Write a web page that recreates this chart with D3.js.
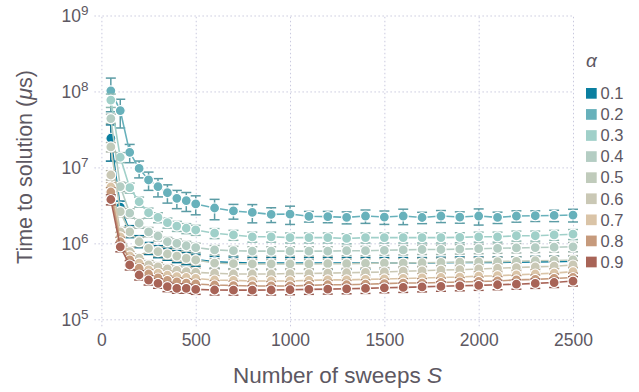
<!DOCTYPE html>
<html>
<head>
<meta charset="utf-8">
<script src="https://cdn.jsdelivr.net/npm/d3@7"></script>
<style>
  html, body { margin: 0; padding: 0; background: #fff; }
  svg { display: block; }
  text { font-family: "Liberation Sans", Helvetica, Arial, sans-serif; }
</style>
</head>
<body>
<svg id="chart" width="639" height="392"></svg>
<script>
// Number of sweeps S at which each run was measured
const sweeps = [50, 100, 150, 200, 250, 300, 350, 400, 450, 500,
  600, 700, 800, 900, 1000, 1100, 1200, 1300, 1400, 1500,
  1600, 1700, 1800, 1900, 2000, 2100, 2200, 2300, 2400, 2500];

const alphaLabels = ["0.1", "0.2", "0.3", "0.4", "0.5", "0.6", "0.7", "0.8", "0.9"];
const alphaColors = ["#0a7fa0", "#67b1bb", "#a0d0c9", "#b4cdc3", "#c0cbbb",
  "#cac8b5", "#dac4a7", "#c69a7c", "#a86457"];

// Time to solution (microseconds), one array per alpha
const tts01 = [2.42e7, 3.0e6, 1.45e6, 1.07e6, 8.7e5, 7.9e5, 7.3e5, 6.8e5, 6.4e5, 6.1e5,
  5.7e5, 5.6e5, 5.5e5, 5.5e5, 5.5e5, 5.5e5, 5.5e5, 5.5e5, 5.5e5, 5.5e5,
  5.5e5, 5.5e5, 5.55e5, 5.6e5, 5.6e5, 5.6e5, 5.65e5, 5.7e5, 5.75e5, 5.8e5];
const tts02 = [1.02e8, 5.6e7, 1.58e7, 9.7e6, 6.83e6, 5.6e6, 4.64e6, 3.92e6, 3.65e6, 3.30e6,
  2.92e6, 2.67e6, 2.55e6, 2.41e6, 2.43e6, 2.27e6, 2.25e6, 2.20e6, 2.29e6, 2.22e6,
  2.29e6, 2.19e6, 2.29e6, 2.22e6, 2.29e6, 2.20e6, 2.29e6, 2.31e6, 2.33e6, 2.36e6];
const tts03 = [7.7e7, 1.36e7, 5.4e6, 3.53e6, 2.53e6, 2.20e6, 1.87e6, 1.69e6, 1.58e6, 1.50e6,
  1.36e6, 1.29e6, 1.22e6, 1.22e6, 1.19e6, 1.19e6, 1.19e6, 1.16e6, 1.19e6, 1.19e6,
  1.19e6, 1.19e6, 1.19e6, 1.20e6, 1.22e6, 1.22e6, 1.26e6, 1.26e6, 1.29e6, 1.32e6];
const tts04 = [4.4e7, 5.6e6, 2.5e6, 1.84e6, 1.42e6, 1.25e6, 1.05e6, 1.0e6, 9.3e5, 8.8e5,
  8.2e5, 8.0e5, 7.9e5, 7.9e5, 7.9e5, 7.9e5, 7.9e5, 8.0e5, 8.0e5, 8.1e5,
  8.2e5, 8.3e5, 8.3e5, 8.4e5, 8.5e5, 8.6e5, 8.7e5, 8.8e5, 8.9e5, 9.0e5];
const tts05 = [1.86e7, 2.61e6, 1.42e6, 1.05e6, 8.6e5, 7.8e5, 7.24e5, 6.8e5, 6.35e5, 6.04e5,
  5.5e5, 5.4e5, 5.35e5, 5.35e5, 5.35e5, 5.35e5, 5.4e5, 5.4e5, 5.45e5, 5.5e5,
  5.5e5, 5.55e5, 5.6e5, 5.65e5, 5.7e5, 5.75e5, 5.8e5, 5.9e5, 5.95e5, 6.04e5];
const tts06 = [7.94e6, 1.42e6, 7.8e5, 6.4e5, 5.2e5, 4.9e5, 4.6e5, 4.4e5, 4.25e5, 4.15e5,
  4.04e5, 3.95e5, 3.95e5, 3.95e5, 4.0e5, 4.0e5, 4.05e5, 4.1e5, 4.15e5, 4.2e5,
  4.3e5, 4.35e5, 4.45e5, 4.5e5, 4.6e5, 4.7e5, 4.8e5, 4.9e5, 5.0e5, 5.19e5];
const tts07 = [5.52e6, 1.22e6, 6.83e5, 5.5e5, 4.46e5, 4.04e5, 3.8e5, 3.65e5, 3.55e5, 3.45e5,
  3.29e5, 3.25e5, 3.2e5, 3.2e5, 3.2e5, 3.25e5, 3.3e5, 3.3e5, 3.35e5, 3.4e5,
  3.45e5, 3.5e5, 3.55e5, 3.6e5, 3.7e5, 3.75e5, 3.85e5, 3.95e5, 4.05e5, 4.24e5];
const tts08 = [4.74e6, 1.05e6, 6.04e5, 4.7e5, 3.95e5, 3.5e5, 3.25e5, 3.1e5, 3.0e5, 2.92e5,
  2.83e5, 2.78e5, 2.75e5, 2.75e5, 2.75e5, 2.8e5, 2.85e5, 2.85e5, 2.9e5, 2.95e5,
  3.0e5, 3.0e5, 3.05e5, 3.1e5, 3.15e5, 3.2e5, 3.3e5, 3.35e5, 3.45e5, 3.55e5];
const tts09 = [3.78e6, 9.0e5, 5.19e5, 3.83e5, 3.29e5, 2.98e5, 2.69e5, 2.56e5, 2.56e5, 2.48e5,
  2.43e5, 2.42e5, 2.42e5, 2.43e5, 2.45e5, 2.48e5, 2.5e5, 2.52e5, 2.55e5, 2.6e5,
  2.63e5, 2.67e5, 2.72e5, 2.76e5, 2.8e5, 2.85e5, 2.9e5, 2.97e5, 3.05e5, 3.19e5];

// Relative size of the error bars (fraction of the value)
const err01 = [0.50, 0.20, 0.18, 0.18, 0.18, 0.18, 0.18, 0.18, 0.18, 0.18,
  0.18, 0.18, 0.18, 0.18, 0.18, 0.18, 0.18, 0.18, 0.18, 0.18,
  0.18, 0.18, 0.18, 0.18, 0.18, 0.18, 0.18, 0.18, 0.18, 0.18];
const err02 = [0.47, 0.41, 0.27, 0.25, 0.27, 0.27, 0.27, 0.27, 0.28, 0.28,
  0.30, 0.22, 0.27, 0.22, 0.27, 0.16, 0.17, 0.18, 0.20, 0.20,
  0.23, 0.17, 0.18, 0.17, 0.24, 0.17, 0.17, 0.16, 0.17, 0.19];
const err03 = [0.20, 0.15, 0.15, 0.15, 0.15, 0.15, 0.15, 0.15, 0.15, 0.15,
  0.15, 0.15, 0.15, 0.15, 0.15, 0.15, 0.15, 0.15, 0.15, 0.15,
  0.15, 0.15, 0.15, 0.15, 0.15, 0.15, 0.15, 0.15, 0.15, 0.15];
const err04 = [0.14, 0.14, 0.14, 0.14, 0.14, 0.14, 0.14, 0.14, 0.14, 0.14,
  0.14, 0.14, 0.14, 0.14, 0.14, 0.14, 0.14, 0.14, 0.14, 0.14,
  0.14, 0.14, 0.14, 0.14, 0.14, 0.14, 0.14, 0.14, 0.14, 0.14];
const err05 = err04, err06 = err04, err07 = err04, err08 = err04;
const err09 = [0.15, 0.14, 0.14, 0.14, 0.14, 0.14, 0.14, 0.14, 0.14, 0.14,
  0.14, 0.14, 0.14, 0.14, 0.14, 0.14, 0.14, 0.14, 0.14, 0.14,
  0.14, 0.14, 0.14, 0.14, 0.14, 0.14, 0.14, 0.14, 0.14, 0.14];

const xTicks = [0, 500, 1000, 1500, 2000, 2500];
const yTicks = [1e5, 1e6, 1e7, 1e8, 1e9];

const seriesValues = [tts01, tts02, tts03, tts04, tts05, tts06, tts07, tts08, tts09];
const seriesErrors = [err01, err02, err03, err04, err05, err06, err07, err08, err09];

const series = alphaLabels.map((label, i) => ({
  label,
  color: alphaColors[i],
  points: sweeps.map((s, j) => ({
    s,
    v: seriesValues[i][j],
    e: seriesValues[i][j] * seriesErrors[i][j]
  }))
}));

// ---- layout ----
const W = 639, H = 392;
const plotL = 101.4, plotR = 573, plotT = 15.5, plotB = 319.3;
const tickOut = 7;
const textColor = "#5d5862";
const gridColor = "#c9c9de";

const svg = d3.select("#chart");
svg.append("rect").attr("width", W).attr("height", H).attr("fill", "#fff");

const x = d3.scaleLinear().domain([0, 2500]).range([plotL, plotR]);
const y = d3.scaleLog().domain([1e5, 1e9]).range([plotB, plotT]);

// ---- grid / axes ----
const gx = svg.append("g")
  .attr("transform", `translate(0,${plotB + tickOut})`)
  .call(d3.axisBottom(x).tickValues(xTicks)
    .tickSize(-(plotB + tickOut - plotT)).tickPadding(7).tickFormat(d3.format("d")));
const gy = svg.append("g")
  .attr("transform", `translate(${plotL - tickOut},0)`)
  .call(d3.axisLeft(y).tickValues(yTicks)
    .tickSize(-(plotR - plotL + tickOut)).tickPadding(6).tickFormat(() => ""));

[gx, gy].forEach(g => {
  g.select(".domain").remove();
  g.selectAll(".tick line")
    .attr("stroke", gridColor)
    .attr("stroke-width", 1)
    .attr("stroke-dasharray", "1.5,2.5");
  g.selectAll(".tick text")
    .attr("fill", textColor)
    .style("font-size", "17.5px");
});

gy.selectAll(".tick text").each(function(d) {
  const t = d3.select(this).attr("dy", "0.36em");
  t.append("tspan").text("10");
  t.append("tspan").attr("dy", "-7").style("font-size", "13.5px")
    .text(Math.round(Math.log10(d)));
});

// ---- data ----
const line = d3.line().x(d => x(d.s)).y(d => y(d.v));
const capHalf = 5;

series.forEach(sr => {
  const g = svg.append("g");
  const barColor = d3.color(sr.color).darker(0.35).formatHex();

  const eb = g.append("g")
    .attr("stroke", barColor)
    .attr("stroke-width", 1.5)
    .attr("fill", "none");
  sr.points.forEach(p => {
    const cx = x(p.s);
    const y1 = y(p.v + p.e), y0 = y(Math.max(p.v - p.e, 1e5));
    eb.append("line").attr("x1", cx).attr("x2", cx).attr("y1", y1).attr("y2", y0);
    eb.append("line").attr("x1", cx - capHalf).attr("x2", cx + capHalf).attr("y1", y1).attr("y2", y1);
    eb.append("line").attr("x1", cx - capHalf).attr("x2", cx + capHalf).attr("y1", y0).attr("y2", y0);
  });

  g.append("path")
    .datum(sr.points)
    .attr("d", line)
    .attr("fill", "none")
    .attr("stroke", sr.color)
    .attr("stroke-width", 1.6);

  g.selectAll("circle")
    .data(sr.points)
    .join("circle")
    .attr("cx", d => x(d.s))
    .attr("cy", d => y(d.v))
    .attr("r", 5)
    .attr("fill", sr.color)
    .attr("stroke", "#fff")
    .attr("stroke-width", 1.2);
});

// ---- axis titles ----
svg.append("text")
  .attr("x", 337.5).attr("y", 383)
  .attr("text-anchor", "middle")
  .attr("fill", textColor)
  .style("font-size", "22.5px")
  .call(t => {
    t.append("tspan").text("Number of sweeps ");
    t.append("tspan").style("font-style", "italic").text("S");
  });

svg.append("text")
  .attr("transform", "translate(32,167) rotate(-90)")
  .attr("text-anchor", "middle")
  .attr("fill", textColor)
  .style("font-size", "21.5px")
  .call(t => {
    t.append("tspan").text("Time to solution (");
    t.append("tspan").style("font-style", "italic").text("μ");
    t.append("tspan").text("s)");
  });

// ---- legend ----
const legend = svg.append("g").attr("transform", "translate(586,0)");
legend.append("text")
  .attr("x", 0).attr("y", 67)
  .attr("fill", textColor)
  .style("font-size", "19px")
  .style("font-style", "italic")
  .text("α");

const rowH = 21.08, row0 = 93.3;
series.forEach((sr, i) => {
  const cy = row0 + i * rowH;
  legend.append("rect")
    .attr("x", 0).attr("y", cy - 5.3)
    .attr("width", 10.7).attr("height", 10.7)
    .attr("fill", sr.color);
  legend.append("text")
    .attr("x", 14.5).attr("y", cy + 5.8)
    .attr("fill", textColor)
    .style("font-size", "16.5px")
    .text(sr.label);
});
</script>
</body>
</html>
